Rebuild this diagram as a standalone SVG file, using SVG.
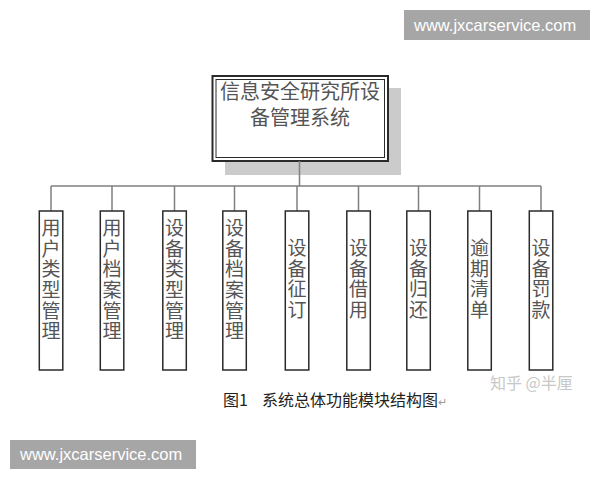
<svg xmlns="http://www.w3.org/2000/svg" width="600" height="480" viewBox="0 0 600 480">
<style>
.cjk{font-family:"Noto Sans CJK SC","Noto Sans CJK JP",sans-serif;}
.box{fill:#fff;stroke:#2a2a2a;stroke-width:1.5;}
.lbl{font-size:19px;fill:#555;text-anchor:middle;}
.conn{stroke:#808080;stroke-width:1.5;fill:none;}
.banner{fill:#a6a6a6;}
.btxt{font-family:"Liberation Sans",Arial,sans-serif;font-size:16.5px;fill:#fff;}
</style>
<rect width="600" height="480" fill="#fff"/>
<rect class="banner" x="404" y="10" width="186" height="30"/>
<text class="btxt" x="414" y="30.5">www.jxcarservice.com</text>
<rect class="banner" x="10" y="440" width="186" height="29"/>
<text class="btxt" x="20" y="460">www.jxcarservice.com</text>

<g id="root">
<rect x="225" y="88" width="176" height="87" fill="#cbcbcb"/>
<rect x="212.5" y="76" width="175.5" height="85" fill="#fff" stroke="#2a2a2a" stroke-width="2"/>
<rect x="216" y="79.5" width="168.5" height="78" fill="none" stroke="#2a2a2a" stroke-width="1"/>
<text class="cjk" font-size="20" fill="#555" text-anchor="middle"><tspan x="300" y="99">信息安全研究所设</tspan><tspan x="300" y="125">备管理系统</tspan></text>
</g>

<g id="connectors">
<path class="conn" d="M299.5 161V186M51 186H541M51 186V211M112 186V211M174.5 186V211M234.5 186V211M297 186V211M358.5 186V211M418.5 186V211M479.5 186V211M541 186V211"/>
</g>

<g id="n1"><rect class="box" x="39.3" y="211" width="23.5" height="159"/>
<text class="cjk lbl"><tspan x="51" y="235">用</tspan><tspan x="51" y="255.7">户</tspan><tspan x="51" y="276.4">类</tspan><tspan x="51" y="297">型</tspan><tspan x="51" y="317.7">管</tspan><tspan x="51" y="338.4">理</tspan></text></g>
<g id="n2"><rect class="box" x="100.3" y="211" width="23.5" height="159"/>
<text class="cjk lbl"><tspan x="112" y="235">用</tspan><tspan x="112" y="255.7">户</tspan><tspan x="112" y="276.4">档</tspan><tspan x="112" y="297">案</tspan><tspan x="112" y="317.7">管</tspan><tspan x="112" y="338.4">理</tspan></text></g>
<g id="n3"><rect class="box" x="162.8" y="211" width="23.5" height="159"/>
<text class="cjk lbl"><tspan x="174.5" y="235">设</tspan><tspan x="174.5" y="255.7">备</tspan><tspan x="174.5" y="276.4">类</tspan><tspan x="174.5" y="297">型</tspan><tspan x="174.5" y="317.7">管</tspan><tspan x="174.5" y="338.4">理</tspan></text></g>
<g id="n4"><rect class="box" x="222.8" y="211" width="23.5" height="159"/>
<text class="cjk lbl"><tspan x="234.5" y="235">设</tspan><tspan x="234.5" y="255.7">备</tspan><tspan x="234.5" y="276.4">档</tspan><tspan x="234.5" y="297">案</tspan><tspan x="234.5" y="317.7">管</tspan><tspan x="234.5" y="338.4">理</tspan></text></g>
<g id="n5"><rect class="box" x="285.3" y="211" width="23.5" height="159"/>
<text class="cjk lbl"><tspan x="297" y="255">设</tspan><tspan x="297" y="275.7">备</tspan><tspan x="297" y="296.4">征</tspan><tspan x="297" y="317">订</tspan></text></g>
<g id="n6"><rect class="box" x="346.8" y="211" width="23.5" height="159"/>
<text class="cjk lbl"><tspan x="358.5" y="255">设</tspan><tspan x="358.5" y="275.7">备</tspan><tspan x="358.5" y="296.4">借</tspan><tspan x="358.5" y="317">用</tspan></text></g>
<g id="n7"><rect class="box" x="406.8" y="211" width="23.5" height="159"/>
<text class="cjk lbl"><tspan x="418.5" y="255">设</tspan><tspan x="418.5" y="275.7">备</tspan><tspan x="418.5" y="296.4">归</tspan><tspan x="418.5" y="317">还</tspan></text></g>
<g id="n8"><rect class="box" x="467.8" y="211" width="23.5" height="159"/>
<text class="cjk lbl"><tspan x="479.5" y="255">逾</tspan><tspan x="479.5" y="275.7">期</tspan><tspan x="479.5" y="296.4">清</tspan><tspan x="479.5" y="317">单</tspan></text></g>
<g id="n9"><rect class="box" x="529.3" y="211" width="23.5" height="159"/>
<text class="cjk lbl"><tspan x="541" y="255">设</tspan><tspan x="541" y="275.7">备</tspan><tspan x="541" y="296.4">罚</tspan><tspan x="541" y="317">款</tspan></text></g>

<text class="cjk" x="490" y="389" font-size="16" fill="#c8c8c8">知乎 @半厘</text>
<text class="cjk" x="223" y="406" font-size="16" fill="#222">图1<tspan x="262">系统总体功能模块结构图</tspan><tspan font-size="11" fill="#999">↵</tspan></text>
</svg>
